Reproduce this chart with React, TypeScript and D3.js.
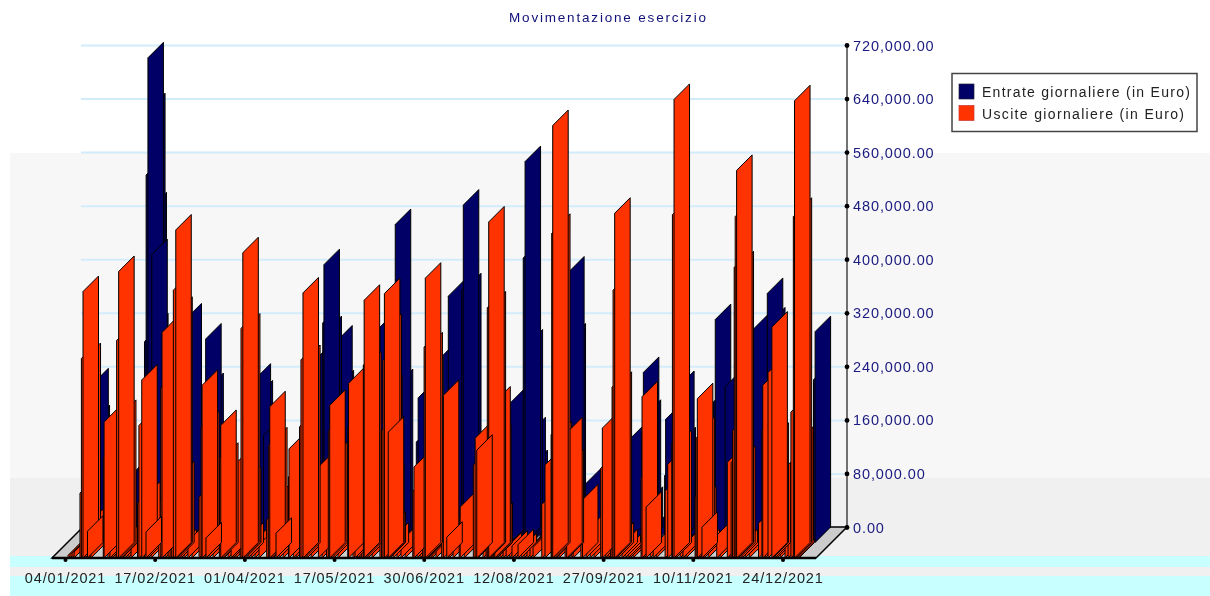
import React from "react";
import * as d3 from "d3";

const dateLabels = ["04/01/2021","17/02/2021","01/04/2021","17/05/2021","30/06/2021","12/08/2021","27/09/2021","10/11/2021","24/12/2021"];
const valueTicks = [0,80000,160000,240000,320000,400000,480000,560000,640000,720000];
const legendLabels = ["Entrate giornaliere (in Euro)","Uscite giornaliere (in Euro)"];
const legendWidths = [208, 202];
const title = "Movimentazione esercizio";

// [days since 04/01/2021, thousands of euro]
const uscite: [number, number][] = [
[1,4],[2,5],[3,7],[4,9],[6.9,97],[7.6,298],[8.4,398],[9.4,298],[11.4,30],[12.3,55],
[18.4,150],[18.8,203],[20.7,105],[21.7,139],[22.7,70],[24.2,40],[25,325],[26,428],[26.9,213],[27.7,25],[29.1,15],[30.6,12],[32.1,18],
[35.3,82],[36,198],[37.4,266],[38.8,91],[40.5,25],[42,15],
[45.8,82],[46.8,254],[47.4,337],[48.9,35],[50.4,40],[51.4,121],[52.2,225],[53,400],[54.2,490],[54.7,367],[55.6,121],
[56.8,20],[58.3,14],[60.2,25],[62.2,15],[65.7,91],[66.7,196],[67.2,258],[67.9,196],[70.6,18],[72.6,14],
[75.7,149],[76.4,198],[77.3,149],[78,105],[80,98],[81.5,134],[82.5,90],[83.9,20],[85.9,114],[86.4,343],[87.3,456],[88.1,342],[88.6,113],[89.9,30],[91.4,20],[93.3,14],[95.3,20],
[99.1,57],[99.9,168],[100.6,226],[101.5,172],[102.2,85],[105.2,20],[107.2,14],
[109.8,121],[110.1,163],[112.2,139],[113.6,91],[115.3,196],[116,296],[117,396],[117.8,295],[119,45],[121,30],
[124.6,136],[126.4,40],[128.6,110],[129.5,190],[130.2,228],[131.1,150],[132.3,35],[134.3,25],
[139.1,196],[139.5,261],[141.7,90],[142.7,201],[143.9,143],[144.8,92],[146,97],[146.8,288],[147.2,385],[147.9,285],[149.1,20],[151.1,14],
[155,75],[155.8,190],[156.5,295],[157.2,395],[158,342],[158.3,250],[159.3,117],[160,46],[161.5,30],[163.4,20],[165.4,25],[167.4,12],
[171.2,100],[171.8,136],[173.3,97],[174.8,25],[176.1,97],[176.8,315],[177.4,418],[178.2,314],[178.8,159],[179.5,50],[180.7,15],[182.7,20],
[185.5,179],[186.3,243],[189.1,20],[191.1,25],[194.1,60],[194.6,76],[196.6,18],
[201.1,139],[202,179],[203.4,60],[205.9,50],[207.4,124],[208,374],[208.7,502],[209.4,375],[210.2,60],[211,173],[211.7,233],[212.1,176],[212.8,60],
[214.3,8],[215.8,12],[217.3,15],[218.8,12],[220.2,18],[221.7,10],[223.2,20],[224.7,14],[226.2,8],[227.6,10],[229.1,14],[230.6,16],
[234.9,80],[236.5,139],[239.5,184],[239.8,485],[240.3,646],[241.2,491],[242,181],[243.4,25],
[246.4,120],[247.2,187],[247.9,139],[249.4,30],[250.4,45],[254.2,55],[255,87],[256.8,40],[258.8,25],[260.7,15],
[264,134],[264.8,194],[266.2,90],[267.6,35],[268.9,168],[269.6,255],[270.1,400],[270.9,515],[271.6,255],[272.6,30],[274.5,20],[276,12],[277.5,10],[278.5,8],[280,6],
[283.9,119],[284.4,241],[285.4,75],[288.4,12],[289.9,18],[291.4,15],
[295.8,100],[297.1,140],[299.1,172],[299.4,513],[300.2,685],[301.2,168],[303.2,15],[304.6,18],[306.1,10],
[310.6,91],[311.1,179],[311.7,238],[312.6,188],[313.3,84],[315,20],[317,14],[321.3,34],[322.9,28],
[326.5,143],[327.5,60],[328.4,143],[329.1,190],[329.9,434],[330.4,510],[331.1,579],[331.8,435],[332.6,144],[333.8,20],[335.3,15],[337.3,12],
[341.9,52],[343.6,191],[344,258],[345.2,25],[346.6,277],[348.5,345],[349.1,179],[350.1,120],[351.1,18],[352.6,12],
[355,50],[356.5,75],[357.9,218],[359.1,510],[359.7,683],[360.5,515],[361.2,173],[361.9,6],
];
// lower bars that sit in front of their taller neighbours
const usciteFront: [number, number][] = [
[10.6,40],[39.5,39],[69.1,30],[103.7,37],[159.1,188],[188,31],[202.8,161],[286.4,76],[314,46],
];
const entrate: [number, number][] = [
[1.2,5],[2.7,8],[4.2,120],[5.6,237],[6.2,182],[9.1,12],[13.1,20],[16.5,15],[21,90],[23.9,40],[26.9,104],
[31.1,300],[31.9,549],[32.8,724],[33.6,648],[34.3,500],[35.1,319],[36.8,60],[39.8,35],[43.7,25],[47.7,40],
[51.6,334],[52.6,68],[56.5,30],[61.3,304],[62.4,230],[63,150],[65.9,25],[70.9,30],[75.8,20],[80.7,30],
[85.7,244],[86.7,219],[89.1,50],[93.1,20],[100.5,15],[107.9,25],[112.8,60],
[117.8,280],[119.1,328],[119.7,415],[120.7,315],[123.7,60],[125.7,200],[126,301],[126.7,234],[127.4,180],[130.1,30],[135.1,40],[140,25],[143.4,25],
[147.4,322],[151.3,40],[154.9,475],[155.9,236],[159.8,30],[163.2,25],[165.3,150],[166.2,216],[169.6,30],[174.6,20],
[178.6,280],[181.1,368],[182,240],[184.4,60],[187.7,377],[188.5,504],[189.6,379],[191.8,40],[196.8,25],[204.2,30],
[209.1,80],[211.9,209],[213,120],[215.5,40],[218.1,425],[219,569],[220,295],[221.4,164],[222.4,115],[226.4,35],[231.3,25],[236.3,20],
[239.2,150],[240.5,404],[241.2,304],[245.2,30],[248.7,87],[252.1,40],[258.5,25],[263.4,20],
[268.9,149],[274.1,60],[277.4,254],[278.3,190],[279.3,60],[283.2,25],[287.9,100],[288.4,184],[291.6,40],[294.8,233],[295.5,149],[300.5,25],[305.4,30],
[307.9,60],[312,210],[312.9,333],[314.4,200],[322.7,40],[327.6,30],[330,100],[331.5,318],[335,25],
[338.6,372],[339.7,328],[340.5,50],[344.9,25],[349.8,20],[354.8,15],[357.7,15],[361.4,243],[362.2,315],
];
const entrateFront: [number, number][] = [[34.7,430],[89.9,160],[317.8,233]];

const xDay = d3.scaleLinear().domain([0, 354]).range([66, 783]);
const xLabel = d3.scalePoint<string>().domain(dateLabels).range([65.5, 783]);
const y = d3.scaleLinear().domain([0, 720000]).range([527.5, 45.5]);
const DEPTH = 15.5;
const NAVY = "#000066";
const RED = "#ff3300";
const FONT = "'Liberation Sans', Arial, sans-serif";

function bar(day: number, k: number, row: number) {
  const h = y(0) - y(k * 1000);
  const x0 = xDay(day) + row * DEPTH;
  const yFront = 527 + (2 - row) * DEPTH;
  const yBack = yFront - DEPTH;
  const p = d3.path();
  p.moveTo(x0, yFront);
  p.lineTo(x0 + DEPTH, yBack);
  p.lineTo(x0 + DEPTH, yBack - h);
  p.lineTo(x0, yFront - h);
  p.closePath();
  return p.toString();
}

function Series({ rows, front, row, fill }: { rows: [number, number][]; front: [number, number][]; row: number; fill: string }) {
  const ordered = d3.sort(rows, (a, b) => d3.ascending(a[1], b[1])).concat(front);
  return (
    <g fill={fill} stroke="#000" strokeWidth={1} strokeLinejoin="round">
      {ordered.map((r, i) => <path key={i} d={bar(r[0], r[1], row)} />)}
    </g>
  );
}

export default function App() {
  const fmt = d3.format(",.2f");
  return (
    <svg width={1210} height={596} style={{ position: "fixed", left: 0, top: 0, background: "#fff", filter: "blur(0.35px)" }} fontFamily={FONT}>
      <rect x={10} y={153} width={1200} height={325} fill="#f7f7f7" />
      <rect x={10} y={478} width={1200} height={78} fill="#f0f0f0" />
      <rect x={10} y={556} width={1200} height={11} fill="#c8ffff" />
      <rect x={10} y={567} width={1200} height={9} fill="#f0f0f0" />
      <rect x={10} y={576} width={1200} height={20} fill="#c8ffff" />

      <text x={509} y={22} fontSize={13.5} fill="#10107a" textLength={197} lengthAdjust="spacing">{title}</text>

      {valueTicks.map(v => (
        <line key={v} x1={81} x2={847} y1={y(v)} y2={y(v)} stroke="#d3ecfb" strokeWidth={2} />
      ))}

      <polygon points={`${xDay(0) - 14},558 816,558 847,527 83,527`} fill="#cccccc" stroke="#000" strokeWidth={1.5} />
      <line x1={52} x2={816} y1={558} y2={558} stroke="#000" strokeWidth={2.5} />

      <line x1={847} x2={847} y1={y(720000)} y2={y(0)} stroke="#444" strokeWidth={1.5} />
      {valueTicks.map(v => (
        <g key={v}>
          <circle cx={847} cy={y(v)} r={2.4} fill="#000" />
          <text x={853} y={y(v) + 5} fontSize={14.5} fill="#1a1a80" letterSpacing={0.9}>{fmt(v)}</text>
        </g>
      ))}

      <Series rows={entrate} front={entrateFront} row={1} fill={NAVY} />
      <Series rows={uscite} front={usciteFront} row={0} fill={RED} />
      <line x1={52} x2={816} y1={558} y2={558} stroke="#000" strokeWidth={2} />

      {dateLabels.map(l => (
        <g key={l}>
          <circle cx={xLabel(l)} cy={560} r={2} fill="#000" />
          <text x={xLabel(l)} y={583} textAnchor="middle" fontSize={14.5} fill="#222" letterSpacing={0.9}>{l}</text>
        </g>
      ))}

      <rect x={952} y={73.5} width={245} height={58} fill="#fff" stroke="#444" strokeWidth={1.5} />
      {legendLabels.map((l, i) => (
        <g key={l}>
          <rect x={959} y={84 + i * 21.5} width={15} height={15} fill={i === 0 ? NAVY : RED} stroke={i === 0 ? "#223" : "#c33"} strokeWidth={0.7} />
          <text x={982} y={97 + i * 21.5} fontSize={14} fill="#222" textLength={legendWidths[i]} lengthAdjust="spacing">{l}</text>
        </g>
      ))}
    </svg>
  );
}
